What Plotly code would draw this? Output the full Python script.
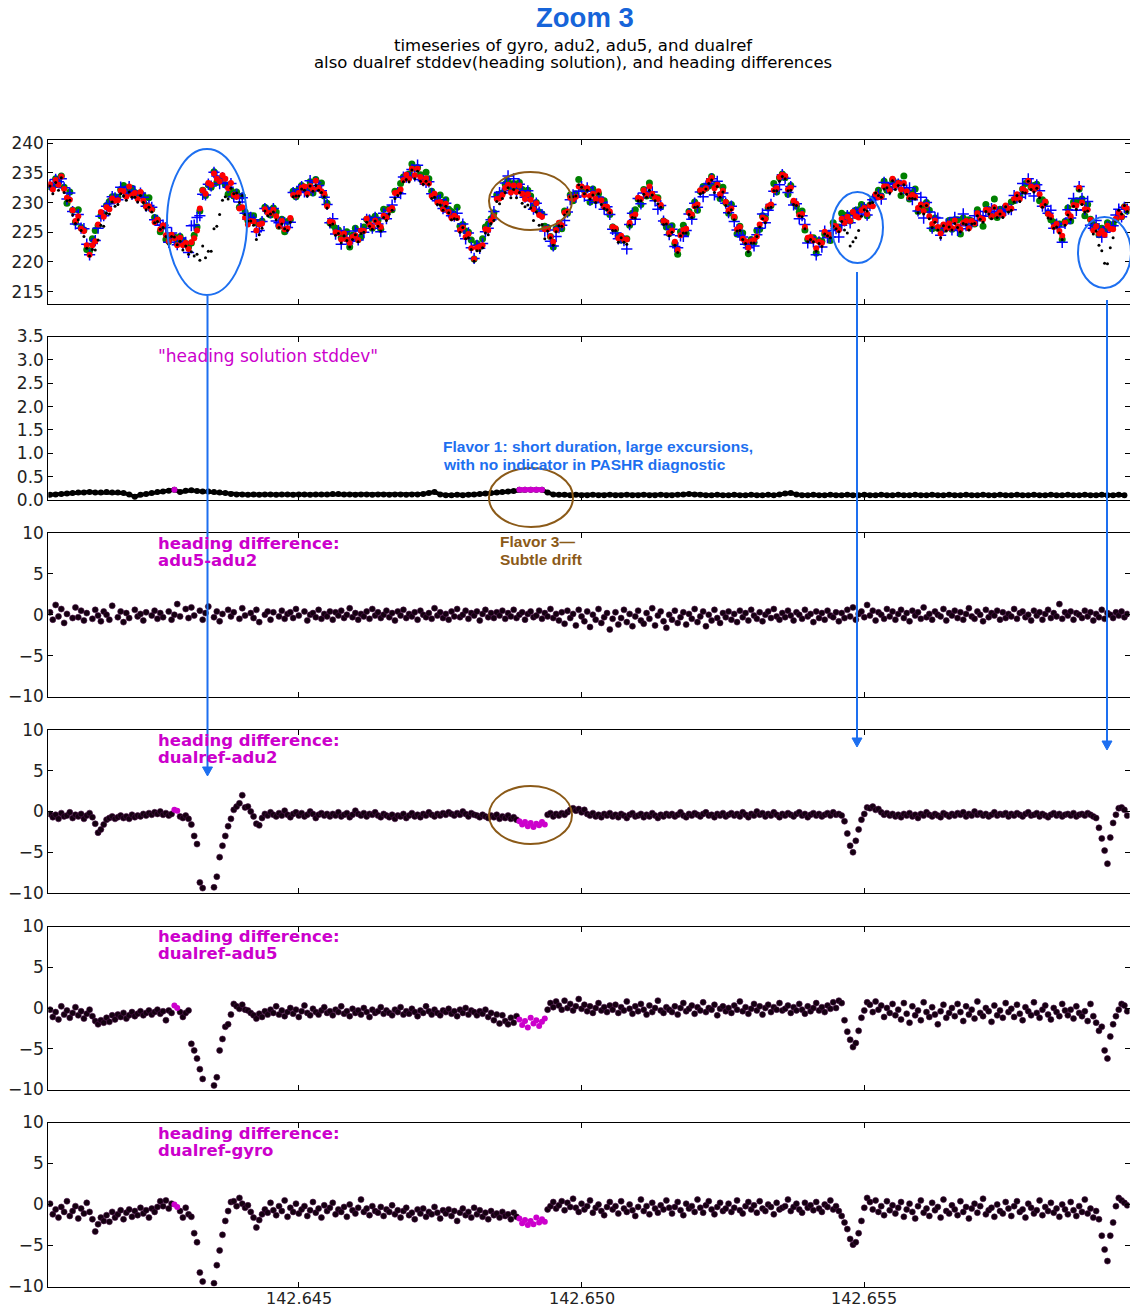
import numpy as np
import plotly.graph_objects as go

W, H = 1130, 1309

# ---------------------------------------------------------------- time axis
T_START = 142.6406          # fractional day of first sample
HEAD_STEP = 0.0001          # stddev sampling
DIFF_STEP = 0.00005         # heading / heading-difference sampling
X_RANGE = [142.64057, 142.65969]
X_TICKS = [142.645, 142.650, 142.655]
X_TICK_TEXT = ["142.645", "142.650", "142.655"]

# ---------------------------------------------------------------- adu2 heading (deg)
adu2_heading = [
    233.1, 232.2, 233.8, 233.0, 234.4, 232.3, 230.8, 230.5, 228.7, 226.9, 227.7, 225.6, 225.2, 222.8, 221.2, 222.8, 223.5, 226.3, 228.4, 227.6,
    229.2, 228.9, 230.7, 230.3, 230.4, 232.0, 231.9, 231.0, 232.7, 231.3, 231.6, 230.6, 231.8, 230.3, 229.3, 229.4, 228.8, 226.7, 227.1, 225.5,
    226.2, 224.5, 223.5, 224.6, 224.0, 222.8, 224.1, 222.8, 223.2, 222.2, 223.3, 224.0, 225.3, 229.0, 232.1, 231.5, 233.3, 233.0, 234.9, 234.0,
    233.6, 234.6, 234.0, 232.4, 233.3, 231.3, 231.0, 229.0, 229.2, 227.5, 226.3, 226.9, 226.8, 225.3, 226.3, 226.5, 228.9, 228.3, 228.2, 228.8,
    227.7, 226.0, 226.9, 225.5, 225.7, 227.4, 231.3, 231.2, 231.6, 232.5, 232.7, 231.5, 232.8, 232.2, 233.7, 232.5, 231.9, 231.5, 229.4, 226.8,
    226.7, 225.0, 224.9, 223.8, 224.8, 223.8, 223.2, 224.2, 224.5, 223.7, 225.3, 225.2, 227.3, 226.3, 225.9, 227.0, 226.5, 225.9, 227.8, 227.5,
    228.8, 229.1, 231.6, 231.7, 232.2, 233.8, 234.7, 234.0, 235.7, 234.6, 235.7, 234.3, 233.4, 234.1, 233.2, 231.1, 231.5, 230.0, 230.1, 228.9,
    229.8, 228.4, 227.4, 227.8, 227.4, 225.4, 225.8, 224.2, 224.7, 222.3, 220.5, 222.4, 222.6, 222.8, 225.5, 225.4, 227.0, 227.7, 230.6, 230.7,
    231.3, 232.5, 233.0, 231.7, 232.9, 231.8, 232.9, 231.5, 230.6, 231.4, 230.5, 228.9, 229.9, 227.9, 227.6, 225.5, 225.6, 224.3, 223.4, 225.4,
    226.6, 226.2, 228.3, 228.5, 230.8, 230.6, 231.0, 232.7, 232.7, 231.3, 232.4, 231.1, 231.5, 230.6, 231.9, 230.4, 229.3, 229.3, 228.5, 225.9,
    225.7, 224.0, 224.4, 223.8, 223.8, 226.6, 227.7, 228.0, 230.8, 230.6, 232.1, 231.3, 232.7, 231.5, 230.8, 230.6, 229.6, 226.9, 226.7, 224.9,
    225.3, 223.4, 222.0, 224.5, 225.4, 225.6, 228.3, 228.0, 229.4, 229.7, 232.1, 232.0, 232.4, 233.7, 234.2, 232.4, 233.0, 231.4, 232.0, 230.1,
    228.7, 229.0, 227.6, 225.5, 225.9, 223.9, 223.5, 222.4, 223.5, 223.7, 224.3, 226.3, 227.5, 227.2, 229.4, 229.7, 232.1, 232.4, 234.3, 234.7,
    234.5, 232.2, 232.5, 230.3, 229.8, 227.9, 228.1, 225.9, 224.1, 224.2, 223.6, 222.3, 223.4, 223.2, 225.1, 224.6, 224.6, 226.1, 226.0, 225.4,
    227.3, 226.6, 227.6, 226.9, 228.4, 227.7, 227.5, 228.7, 229.1, 228.1, 229.5, 229.4, 231.4, 230.9, 231.0, 232.7, 232.7, 232.1, 234.0, 232.8,
    233.3, 232.2, 233.3, 231.9, 230.9, 231.3, 231.0, 229.1, 229.7, 228.6, 229.6, 227.7, 226.4, 227.0, 225.9, 224.8, 226.3, 225.6, 226.5, 225.7,
    227.0, 226.0, 225.5, 226.6, 226.9, 225.7, 226.9, 226.5, 228.2, 227.4, 227.2, 228.8, 228.7, 227.7, 229.2, 228.0, 228.4, 227.9, 229.5, 229.0,
    229.0, 230.6, 231.4, 230.6, 232.3, 231.9, 233.7, 232.7, 232.2, 232.6, 231.4, 229.5, 230.2, 228.1, 227.7, 225.9, 226.4, 225.2, 224.4, 226.6,
    228.2, 227.7, 229.6, 229.5, 232.5, 230.0, 228.9, 228.8, 227.1, 225.3, 226.0, 224.8, 225.2, 224.6, 226.1, 225.6, 225.5, 227.3, 228.3, 227.6,
    229.3, 229.0,
]

# ---------------------------------------------------------------- dualref heading solution stddev
pashr_stddev = [
    0.11, 0.12, 0.13, 0.14, 0.15, 0.16, 0.16, 0.17, 0.16, 0.16,
    0.17, 0.16, 0.16, 0.15, 0.12, 0.07, 0.11, 0.13, 0.15, 0.17,
    0.18, 0.20, 0.22, 0.17, 0.20, 0.21, 0.19, 0.18, 0.18, 0.17,
    0.16, 0.15, 0.13, 0.12, 0.12, 0.11, 0.12, 0.11, 0.12, 0.12,
    0.11, 0.12, 0.12, 0.11, 0.12, 0.12, 0.11, 0.12, 0.12, 0.12,
    0.13, 0.13, 0.12, 0.12, 0.11, 0.12, 0.12, 0.11, 0.12, 0.12,
    0.11, 0.12, 0.12, 0.11, 0.12, 0.12, 0.13, 0.15, 0.17, 0.12,
    0.10, 0.10, 0.11, 0.10, 0.11, 0.12, 0.13, 0.14, 0.15, 0.16,
    0.17, 0.18, 0.19, 0.22, 0.22, 0.22, 0.22, 0.22, 0.16, 0.12,
    0.11, 0.11, 0.10, 0.11, 0.10, 0.10, 0.11, 0.10, 0.10, 0.11,
    0.10, 0.10, 0.11, 0.10, 0.10, 0.11, 0.10, 0.10, 0.11, 0.10,
    0.10, 0.11, 0.12, 0.13, 0.12, 0.11, 0.10, 0.10, 0.11, 0.10,
    0.10, 0.11, 0.10, 0.10, 0.11, 0.10, 0.10, 0.11, 0.10, 0.12,
    0.14, 0.15, 0.12, 0.10, 0.10, 0.11, 0.10, 0.10, 0.11, 0.10,
    0.10, 0.11, 0.10, 0.10, 0.11, 0.10, 0.10, 0.11, 0.10, 0.10,
    0.11, 0.10, 0.10, 0.11, 0.10, 0.10, 0.11, 0.10, 0.10, 0.11,
    0.10, 0.10, 0.11, 0.10, 0.10, 0.11, 0.10, 0.10, 0.11, 0.10,
    0.10, 0.11, 0.10, 0.10, 0.11, 0.10, 0.10, 0.11, 0.10, 0.10,
    0.11, 0.10, 0.10, 0.11, 0.10, 0.10, 0.11, 0.10, 0.10, 0.11,
    0.10,
]
STDDEV_FLAG_LEVEL = 0.215   # samples at/above this are highlighted

# ---------------------------------------------------------------- heading differences (deg)
dualref_minus_adu2 = [
    -0.3, -0.7, -0.4, -0.9, -0.2, -0.6, -0.5, -0.1, -0.8, -0.4, -0.6, -0.3, -0.9, -0.5, -0.2, -0.7, -1.5, -2.6, -2.2, -1.6,
    -1.0, -0.8, -0.6, -0.9, -0.7, -0.5, -0.8, -0.6, -0.9, -0.4, -0.7, -0.5, -0.6, -0.3, -0.5, -0.2, -0.4, -0.1, -0.3, 0.0,
    -0.4, -0.2, -0.5, -0.3, 0.2, 0.1, -0.6, -0.8, -0.5, -0.9, -1.6, -3.0, -4.0, -8.7, -9.4, -10.8, -11.5, -11.2, -9.3, -8.0,
    -5.6, -4.2, -3.0, -1.8, -0.9, 0.2, 0.6, 1.0, 2.0, 0.5, 0.6, 0.0, -0.6, -1.5, -1.7, -0.8, -0.3, -0.5, -0.1, -0.4,
    -0.6, -0.2, -0.5, 0.1, -0.4, -0.7, -0.3, -0.1, -0.5, -0.2, -0.6, -0.4, 0.0, -0.3, -0.8, -0.4, -0.2, -0.5, -0.3, -0.6,
    -0.3, -0.5, -0.1, -0.6, -0.4, -0.2, -0.7, -0.4, 0.1, -0.3, -0.5, -0.2, -0.6, -0.3, -0.4, -0.1, -0.5, -0.7, -0.3, -0.5,
    -0.7, -0.4, -0.9, -0.5, -0.6, -0.3, -0.8, -0.5, -0.2, -0.6, -0.4, -0.7, -0.3, -0.5, -0.1, -0.4, -0.6, -0.3, -0.5, -0.2,
    -0.4, -0.1, -0.3, -0.5, -0.2, -0.4, 0.0, -0.3, -0.6, -0.2, -0.4, -0.5, -0.7, -0.4, -0.6, -0.8, -0.5, -0.7, -0.4, -0.9,
    -0.6, -0.8, -0.5, -0.9, -0.7, -1.0, -1.2, -1.6, -1.3, -1.8, -1.4, -1.9, -1.5, -1.7, -1.3, -1.6, -0.4, -0.2, -0.6, -0.3,
    -0.5, -0.2, -0.4, -0.1, 0.2, 0.4, 0.1, 0.3, -0.1, 0.2, -0.3, -0.5, -0.2, -0.6, -0.4, -0.7, -0.3, -0.5, -0.2, -0.6,
    -0.4, -0.7, -0.3, -0.5, -0.8, -0.4, -0.2, -0.6, -0.5, -0.3, -0.7, -0.4, -0.6, -0.2, -0.5, -0.8, -0.4, -0.6, -0.3, -0.5,
    -0.3, -0.6, -0.4, -0.1, -0.5, -0.7, -0.3, -0.5, -0.2, -0.4, -0.6, -0.3, -0.1, -0.5, -0.4, -0.7, -0.3, -0.5, -0.2, -0.6,
    -0.4, -0.2, -0.5, -0.3, -0.6, -0.1, -0.4, -0.7, -0.3, -0.5, 0.0, -0.4, -0.2, -0.6, -0.3, -0.5, -0.1, -0.4, -0.7, -0.3,
    -0.5, -0.2, -0.4, -0.6, -0.3, -0.1, -0.5, -0.3, -0.7, -0.4, -0.2, -0.5, -0.3, -0.6, -0.4, -0.2, -0.5, -0.1, -0.4, -0.3,
    -0.5, -1.2, -2.7, -4.2, -5.0, -3.6, -2.2, -1.0, -0.3, 0.5, 0.4, 0.6, 0.2, 0.3, -0.1, -0.4, -0.2, -0.5, -0.3, -0.6,
    -0.4, -0.7, -0.3, -0.5, -0.2, -0.6, -0.4, -0.8, -0.3, -0.5, -0.1, -0.4, -0.6, -0.3, -0.5, -0.7, -0.2, -0.4, -0.6, -0.3,
    -0.5, -0.2, -0.4, -0.1, -0.6, -0.3, -0.5, 0.0, -0.4, -0.2, -0.5, -0.3, -0.6, -0.4, -0.1, -0.5, -0.3, -0.4, -0.2, -0.6,
    -0.3, -0.5, -0.2, -0.4, -0.6, -0.3, -0.1, -0.5, -0.4, -0.2, -0.6, -0.3, -0.5, -0.7, -0.4, -0.2, -0.5, -0.3, -0.6, -0.4,
    -0.3, -0.5, -0.2, -0.6, -0.4, -0.3, -0.5, -0.2, -0.4, -0.6, -0.8, -2.0, -3.3, -4.8, -6.4, -3.2, -1.4, -0.4, 0.4, 0.5,
    0.2, -0.5,
]

dualref_minus_adu5 = [
    -0.2, -1.1, -0.5, -1.4, 0.2, -0.8, -0.3, -1.2, -0.6, 0.1, -0.9, -0.4, -1.3, -0.7, -0.2, -1.0, -1.6, -2.0, -1.5, -1.8,
    -1.2, -1.7, -0.9, -1.4, -0.8, -1.1, -0.6, -1.3, -0.9, -0.5, -1.0, -0.7, -0.4, -0.9, -0.6, -0.3, -0.8, -0.5, -0.2, -0.7,
    -0.4, -1.5, -0.3, -0.6, 0.3, 0.0, -0.5, -1.1, -0.6, -0.3, -4.4, -5.2, -6.2, -7.5, -8.7, -10.6, -11.3, -11.0, -9.5, -8.5,
    -5.2, -3.8, -2.3, -2.0, -0.8, 0.5, 0.2, -0.1, 0.4, -0.2, -0.3, -0.6, -0.9, -1.3, -0.7, -1.1, -0.4, -0.8, -0.2, -0.6,
    0.2, -0.8, -0.3, -1.0, -0.5, 0.0, -0.7, -0.2, -1.1, -0.4, 0.3, -0.6, -0.9, -0.1, -0.5, -0.8, -0.3, 0.1, -0.6, -0.4,
    -0.9, -0.2, -0.5, 0.2, -0.7, -0.4, -1.0, -0.1, -0.6, -0.3, -0.8, 0.0, -0.5, -1.1, -0.2, -0.6, -0.4, 0.1, -0.7, -0.3,
    -0.6, -0.9, -0.2, -0.5, 0.1, -0.8, -0.4, -0.7, -0.1, -0.5, -1.0, -0.3, -0.6, 0.2, -0.4, -0.8, -0.2, -0.6, -0.9, -0.3,
    -0.5, -0.1, -0.7, -0.4, -1.0, -0.2, -0.6, 0.0, -0.8, -0.3, -0.5, -0.9, -0.4, -0.7, -0.2, -1.1, -0.6, -1.5, -0.8, -1.9,
    -0.9, -1.6, -2.0, -1.2, -1.8, -1.0, -1.4, -2.1, -1.6, -2.4, -1.2, -1.9, -1.5, -2.2, -1.7, -1.3, -0.2, 0.6, 0.1, 0.8,
    0.3, -0.2, 0.9, 0.0, 0.5, -0.3, 0.2, 1.1, -0.1, 0.4, -0.4, 0.2, -0.6, 0.0, 0.6, -0.3, 0.1, -0.5, 0.3, -0.2,
    0.4, -0.6, 0.1, -0.3, 0.8, -0.1, -0.7, 0.2, -0.4, 0.5, -0.2, -0.8, 0.3, -0.5, 0.0, 0.9, -0.3, -0.6, 0.1, -0.2,
    -0.5, 0.2, -0.8, 0.0, 0.6, -0.4, -0.1, 0.3, -0.7, 0.1, -0.3, 0.7, -0.5, 0.0, -0.2, 0.4, -0.9, -0.1, 0.2, -0.4,
    0.0, -0.6, 0.3, -0.2, 0.8, -0.4, 0.1, -0.7, -0.1, 0.5, -0.3, 0.2, -0.8, 0.0, 0.4, -0.5, 0.1, -0.2, 0.6, -0.3,
    -0.1, 0.3, -0.6, 0.1, -0.3, 0.5, -0.2, -0.7, 0.2, -0.4, 0.0, 0.6, -0.3, 0.1, -0.5, 0.3, -0.1, 0.7, 0.0, 0.9,
    0.6, -1.5, -2.9, -3.9, -4.8, -4.3, -2.8, -1.2, -0.3, 0.7, 0.4, -0.5, 0.8, -0.2, 0.3, -1.1, 0.0, -0.6, 0.5, -0.9,
    -0.2, -1.4, 0.6, -0.7, -1.8, 0.2, -0.9, -0.3, -1.5, 0.7, -0.5, -1.1, 0.1, -0.8, -2.0, -0.4, 0.4, -1.2, -0.6, 0.0,
    -1.0, 0.5, -0.5, -1.6, 0.2, -0.8, -0.2, -1.3, 0.8, -0.6, -1.0, 0.0, -0.4, -1.7, 0.3, -0.9, -0.3, -1.2, 0.6, -0.5,
    -0.1, -1.1, 0.4, -0.7, -1.5, 0.1, -0.4, -0.9, 0.7, -0.6, -1.2, -0.2, 0.3, -0.8, -1.4, 0.0, -0.5, -1.0, 0.5, -0.3,
    -0.9, -0.2, -1.3, 0.2, -0.6, -1.0, -0.4, -1.6, 0.5, -1.0, -1.8, -2.8, -2.3, -5.2, -6.2, -3.5, -2.0, -1.0, -0.2, 0.5,
    0.3, -0.4,
]

dualref_minus_gyro = [
    0.1, -1.2, -0.6, -1.6, -0.3, -0.9, 0.4, -1.4, -0.8, -0.2, -1.7, -0.5, -1.1, 0.2, -0.9, -1.8, -3.3, -2.4, -1.6, -2.0,
    -1.3, -2.1, -0.9, -1.6, -1.2, -0.7, -1.8, -1.0, -0.6, -1.5, -0.8, -1.3, -0.4, -1.1, -0.7, -1.6, -0.5, -0.9, -0.3, 0.4,
    -0.2, 0.5, -0.5, 0.1, 0.0, -0.3, -0.8, -1.6, -0.4, -1.2, -1.5, -3.5, -4.6, -8.3, -9.4, -10.5, -11.2, -10.8, -9.6, -7.4,
    -5.6, -3.7, -2.0, -0.8, 0.3, 0.4, -0.2, 0.8, 0.1, -0.4, -0.1, -0.9, -1.6, -2.8, -1.9, -1.2, -0.6, -1.0, 0.2, -0.7,
    -1.3, -0.2, -0.8, 0.5, -1.5, -0.4, -0.9, 0.1, -1.1, -0.6, -0.2, -1.4, -0.7, 0.3, -1.0, -0.5, -1.6, -0.1, -0.8, -0.4,
    0.2, -1.2, -0.6, -0.9, -0.3, -1.5, 0.0, -0.7, -1.1, -0.4, 0.6, -0.9, -0.5, -1.3, -0.2, -0.8, -1.0, -0.3, -1.4, -0.6,
    -0.9, -0.1, -1.2, -0.7, -1.6, -0.8, -0.4, -1.3, -1.0, -1.8, -0.6, -1.1, -0.5, -1.5, -0.9, -1.2, -0.3, -1.0, -1.7, -0.7,
    -1.1, -0.6, -1.4, -0.8, -2.0, -1.0, -0.5, -1.3, -0.9, -1.6, -0.4, -1.2, -0.7, -1.5, -1.0, -1.8, -0.8, -1.3, -1.1, -1.6,
    -0.9, -1.4, -1.2, -1.8, -1.0, -1.5, -1.7, -2.3, -1.9, -2.5, -2.0, -2.4, -1.6, -2.2, -1.8, -2.1, -0.6, -0.2, 0.3, -0.5,
    -0.1, 0.4, -0.7, 0.2, -0.3, 0.7, -0.4, -0.9, 0.1, -0.6, -0.2, 0.5, -1.0, -0.4, 0.0, -0.8, -1.3, -0.3, 0.3, -0.6,
    -0.2, -1.1, 0.4, -0.5, -0.9, 0.0, -0.7, -1.4, -0.3, 0.6, -0.8, -0.2, -1.2, 0.2, -0.5, -1.0, -0.1, -0.6, 0.5, -0.4,
    -1.1, -0.3, 0.3, -0.7, -1.3, 0.1, -0.5, -0.2, -0.9, 0.6, -0.4, -1.0, -0.1, 0.4, -0.6, -1.2, -0.3, 0.2, -0.8, -0.5,
    0.1, -0.9, -0.4, 0.5, -0.7, -1.1, -0.2, 0.3, -0.6, -0.1, -1.0, 0.4, -0.5, -0.8, 0.0, -0.3, -1.2, 0.2, -0.6, -0.4,
    -0.2, 0.6, -0.8, -0.3, 0.1, -0.6, -1.0, 0.2, -0.4, -0.1, -0.7, 0.3, -0.5, -0.9, 0.0, -0.3, 0.5, -0.6, -0.2, -0.8,
    -1.4, -2.2, -3.0, -4.2, -4.9, -4.6, -3.5, -2.0, -0.4, 0.8, 0.3, -0.6, 0.5, -0.9, -0.2, -1.3, 0.4, -0.7, -0.1, -1.1,
    -0.4, 0.3, -1.5, -0.6, 0.1, -0.9, -1.7, -0.2, 0.5, -1.0, -0.5, -1.4, 0.2, -0.7, -0.3, -1.6, 0.6, -0.8, -1.1, -0.1,
    -0.6, -1.3, 0.4, -0.9, -0.3, -1.7, -0.5, 0.1, -1.0, -0.2, 0.7, -1.2, -0.7, -0.4, -1.5, 0.0, -0.8, -1.1, 0.3, -0.5,
    -1.4, -0.2, 0.4, -0.9, -0.6, -1.6, 0.1, -0.4, -1.1, -0.7, 0.5, -1.3, -0.3, -0.8, 0.2, -1.0, -0.5, -1.5, 0.0, -0.6,
    -1.2, 0.3, -0.7, -1.4, -0.2, -0.9, 0.6, -1.1, -0.5, -1.6, -0.8, -1.8, -3.8, -5.5, -6.9, -3.8, -2.2, -0.2, 0.8, 0.5,
    0.2, -0.1,
]

adu5_minus_adu2 = [
    0.3, -0.6, 1.2, -0.2, 0.7, -1.0, 0.1, None, -0.4, 0.9, -0.3, 0.5, -0.7, 0.2, None, -0.5, 0.6, -0.1, -0.8, 0.4,
    0.0, -0.6, 1.1, None, -0.3, 0.4, -0.9, 0.2, -0.4, None, 0.6, -0.2, 0.1, -0.7, 0.3, None, -0.1, 0.5, -0.5, 0.2,
    -0.3, None, 0.4, -0.6, 0.0, 1.3, -0.2, None, 0.7, -0.4, 0.9, -0.1, None, 0.5, -0.6, 0.2, 1.0, None, -0.3, 0.4,
    -0.8, 0.1, None, 0.6, -0.2, 0.3, None, -0.5, 0.8, -0.1, None, 0.2, -0.4, 0.6, -0.9, None, 0.0, 0.4, -0.6, 0.3,
    None, -0.2, 0.5, -0.5, 0.1, 0.3, -0.4, 0.7, -0.1, None, 0.4, -0.7, 0.0, 0.2, -0.3, 0.6, -0.5, 0.1, -0.2, 0.4,
    -0.6, 0.3, -0.1, 0.5, -0.4, 0.0, 0.8, -0.3, 0.2, -0.6, 0.1, -0.2, 0.4, -0.5, 0.7, -0.1, 0.3, -0.4, 0.0, 0.5,
    -0.3, 0.2, -0.7, 0.4, -0.1, 0.6, -0.4, 0.1, -0.2, 0.3, -0.6, 0.5, 0.0, -0.3, 0.2, -0.5, 0.8, -0.1, 0.3, -0.4,
    0.1, -0.6, 0.4, -0.2, 0.7, -0.3, 0.0, 0.5, -0.5, 0.2, -0.1, 0.4, -0.7, 0.1, 0.6, -0.3, 0.2, -0.4, 0.3, -0.1,
    0.5, -0.5, 0.2, -0.2, 0.6, -0.4, 0.0, 0.3, -0.6, 0.1, 0.4, -0.3, -0.1, 0.5, -0.5, 0.2, -0.2, 0.7, -0.4, 0.1,
    -0.7, 0.3, -1.1, 0.5, -0.4, 0.1, -1.3, 0.6, -0.2, -0.8, 0.4, -1.5, 0.0, -0.6, 0.7, -1.0, -0.3, 0.2, -1.8, -0.5,
    0.3, -1.2, -0.4, 0.6, -0.9, 0.1, -1.4, -0.2, 0.5, -0.7, -1.1, 0.2, -0.5, 0.8, -1.3, -0.1, 0.4, -0.8, -1.6, 0.0,
    -0.6, 0.5, -1.0, -0.3, 0.3, -1.2, 0.1, -0.5, 0.7, -0.9, -0.2, 0.4, -1.4, 0.0, -0.7, 0.6, -0.4, -1.0, 0.2, -0.3,
    0.4, -0.6, 0.1, -0.9, 0.5, -0.3, 0.2, -0.7, 0.6, -0.1, -0.5, 0.3, -0.8, 0.0, 0.4, -0.4, 0.7, -0.2, -0.6, 0.2,
    -0.3, 0.5, -0.1, -0.7, 0.3, 0.0, -0.5, 0.6, -0.2, 0.1, -0.9, 0.4, -0.4, 0.2, -0.6, 0.5, -0.1, -0.3, 0.3, -0.8,
    0.2, -0.4, 0.6, -0.2, 0.9, -0.6, 0.1, 0.4, -0.3, 1.2, -0.1, 0.5, -0.7, 0.3, 0.0, -0.5, 0.7, -0.2, 0.4, -0.6,
    0.1, 0.6, -0.4, 0.2, -0.8, 0.5, -0.1, 0.3, -0.5, 0.9, -0.3, 0.1, -0.6, 0.4, 0.0, -0.2, 0.7, -0.7, 0.2, -0.1,
    0.5, -0.4, 0.3, -0.6, 0.1, 0.8, -0.2, -0.5, 0.4, 0.0, -0.8, 0.6, -0.3, 0.2, -0.1, 0.5, -0.6, 0.3, -0.4, 0.1,
    -0.2, 0.7, -0.5, 0.2, 0.4, -0.3, 0.0, -0.7, 0.5, -0.1, 0.3, -0.6, 0.1, 0.6, -0.4, 0.2, -0.2, 1.3, -0.5, 0.3,
    -0.1, 0.4, -0.6, 0.2, 0.0, -0.4, 0.5, -0.2, 0.3, -0.7, 0.1, -0.3, 0.6, -0.5, 0.2, 0.0, -0.4, 0.3, -0.1, 0.4,
    -0.3, 0.1,
]

# ---------------------------------------------------------------- derived series
t_head = T_START + HEAD_STEP * np.arange(len(pashr_stddev))
t_diff = T_START + DIFF_STEP * np.arange(len(dualref_minus_adu2))

d_adu2 = np.array(dualref_minus_adu2, dtype=float)
d_adu5 = np.array(dualref_minus_adu5, dtype=float)
d_gyro = np.array(dualref_minus_gyro, dtype=float)
d_a5a2 = np.array(adu5_minus_adu2, dtype=float)

adu2 = np.array(adu2_heading, dtype=float)
dualref = adu2 + d_adu2
adu5 = dualref - d_adu5
gyro = dualref - d_gyro

stddev = np.array(pashr_stddev, dtype=float)
flag_head = stddev >= STDDEV_FLAG_LEVEL
flag_diff = np.repeat(flag_head, 2)[: len(t_diff)]

# ---------------------------------------------------------------- styling
MAGENTA = "#cc00cc"
BLUE = "#1d6ff0"
BROWN = "#8b5a18"
TICK_COLOR = "#222222"
Y_TICK_FONT = dict(family="DejaVu Sans", size=17, color=TICK_COLOR)

# panel extents in page pixels (top, bottom)
PANELS_PX = [(140, 303.5), (336.5, 500), (533, 696.5),
             (730, 893), (926.5, 1089.5), (1122.5, 1286.5)]
X_DOMAIN = [48.3 / W, 1129.5 / W]
X_LABEL_PY = 1298           # centre line of the time labels under the last panel

Y_RANGES = [[213.0, 240.55], [0, 3.5], [-10, 10], [-10, 10], [-10, 10], [-10, 10]]
Y_TICKS = [[215, 220, 225, 230, 235, 240],
           [0, 0.5, 1.0, 1.5, 2.0, 2.5, 3.0, 3.5],
           [-10, -5, 0, 5, 10], [-10, -5, 0, 5, 10],
           [-10, -5, 0, 5, 10], [-10, -5, 0, 5, 10]]


def ax_names(k):
    return ("x" if k == 1 else f"x{k}", "y" if k == 1 else f"y{k}")


def pxx(px):
    return px / W


def pxy(py):
    return 1 - py / H


fig = go.Figure()

# panel 1: headings
xa, ya = ax_names(1)
fig.add_trace(go.Scatter(x=t_diff, y=gyro, mode="markers", name="gyro",
                         marker=dict(color="#008000", size=7), xaxis=xa, yaxis=ya))
fig.add_trace(go.Scatter(x=t_diff, y=adu5, mode="markers", name="adu5",
                         marker=dict(color="#0000ff", size=8, symbol="cross-thin",
                                     line=dict(color="#0000ff", width=1.5)),
                         xaxis=xa, yaxis=ya))
fig.add_trace(go.Scatter(x=t_diff, y=adu2, mode="markers", name="adu2",
                         marker=dict(color="#ff0000", size=6), xaxis=xa, yaxis=ya))
fig.add_trace(go.Scatter(x=t_diff, y=dualref, mode="markers", name="dualref",
                         marker=dict(color="#000000", size=3), xaxis=xa, yaxis=ya))

# panel 2: heading solution stddev
xa, ya = ax_names(2)
fig.add_trace(go.Scatter(x=t_head, y=stddev, mode="lines+markers", name="stddev",
                         line=dict(color="black", width=4),
                         marker=dict(color="black", size=6), xaxis=xa, yaxis=ya))
fig.add_trace(go.Scatter(x=t_head, y=np.where(flag_head, stddev, np.nan),
                         mode="lines+markers", name="stddev flagged",
                         line=dict(color=MAGENTA, width=5),
                         marker=dict(color=MAGENTA, size=6), xaxis=xa, yaxis=ya))

# panels 3-6: heading differences
DOT = dict(color="#140010", size=6, line=dict(color="#4a1046", width=0.6))
FLAG_DOT = dict(color=MAGENTA, size=6)
diff_series = [(3, d_a5a2, False), (4, d_adu2, True), (5, d_adu5, True), (6, d_gyro, True)]
for k, d, highlight in diff_series:
    xa, ya = ax_names(k)
    if highlight:
        fig.add_trace(go.Scatter(x=t_diff, y=np.where(flag_diff, np.nan, d), mode="markers",
                                 marker=DOT, xaxis=xa, yaxis=ya))
        fig.add_trace(go.Scatter(x=t_diff, y=np.where(flag_diff, d, np.nan), mode="markers",
                                 marker=FLAG_DOT, xaxis=xa, yaxis=ya))
    else:
        fig.add_trace(go.Scatter(x=t_diff, y=d, mode="markers", marker=DOT,
                                 xaxis=xa, yaxis=ya))

# axes
layout_axes = {}
for k in range(1, 7):
    top, bot = PANELS_PX[k - 1]
    xkey = "xaxis" if k == 1 else f"xaxis{k}"
    ykey = "yaxis" if k == 1 else f"yaxis{k}"
    xa, ya = ax_names(k)
    layout_axes[xkey] = dict(
        domain=X_DOMAIN, range=X_RANGE, anchor=ya, automargin=False,
        tickvals=X_TICKS, showticklabels=False,
        ticks="inside", ticklen=5, tickwidth=1, tickcolor="black",
        showline=True, linecolor="black", linewidth=1, mirror="allticks",
        showgrid=False, zeroline=False,
    )
    layout_axes[ykey] = dict(
        domain=[pxy(bot), pxy(top)], range=Y_RANGES[k - 1], anchor=xa, automargin=False,
        tickvals=Y_TICKS[k - 1], tickformat=".1f" if k == 2 else None,
        ticks="inside", ticklen=5, tickwidth=1, tickcolor="black",
        showline=True, linecolor="black", linewidth=1, mirror="allticks",
        showgrid=False, zeroline=False, tickfont=Y_TICK_FONT,
    )


def text(px, py, s, color, size, family, bold=False, xanchor="left"):
    return dict(x=pxx(px), y=pxy(py), xref="paper", yref="paper",
                text=f"<b>{s}</b>" if bold else s, showarrow=False,
                xanchor=xanchor, yanchor="middle", borderpad=0,
                font=dict(color=color, size=size, family=family))


annotations = [
    text(585, 17, "Zoom 3", "#1664d9", 27.5, "Liberation Sans", bold=True, xanchor="center"),
    text(573, 45.5, "timeseries of gyro, adu2, adu5, and dualref", "black", 16.5,
         "DejaVu Sans", xanchor="center"),
    text(573, 62.5, "also dualref stddev(heading solution), and heading differences",
         "black", 16.5, "DejaVu Sans", xanchor="center"),
    text(157, 356, "\"heading solution stddev\"", MAGENTA, 17, "DejaVu Sans"),
    text(442, 447, "Flavor 1: short duration, large excursions,", BLUE, 15.5,
         "Liberation Sans", bold=True),
    text(442, 465, "with no indicator in PASHR diagnostic", BLUE, 15.5,
         "Liberation Sans", bold=True),
    text(499, 541, "Flavor 3\u2014", BROWN, 15.5, "Liberation Sans", bold=True),
    text(499, 559, "Subtle drift", BROWN, 15.5, "Liberation Sans", bold=True),
]
for py, name in [(544, "adu5-adu2"), (741, "dualref-adu2"),
                 (937, "dualref-adu5"), (1134, "dualref-gyro")]:
    annotations.append(text(157, py - 0.5, "heading difference:", MAGENTA, 16.5,
                            "DejaVu Sans", bold=True))
    annotations.append(text(157, py + 16.5, name, MAGENTA, 16.5, "DejaVu Sans", bold=True))

# time labels under the bottom panel, placed on that panel's x scale
for tv, tt in zip(X_TICKS, X_TICK_TEXT):
    annotations.append(dict(x=tv, y=pxy(X_LABEL_PY), xref="x6", yref="paper",
                            text=tt, showarrow=False, xanchor="center", yanchor="middle",
                            borderpad=0,
                            font=dict(family="DejaVu Sans", size=16, color=TICK_COLOR)))


def ellipse(x0, y0, x1, y1, color):
    return dict(type="circle", xref="paper", yref="paper",
                x0=pxx(x0), x1=pxx(x1), y0=pxy(y1), y1=pxy(y0),
                line=dict(color=color, width=2), fillcolor="rgba(0,0,0,0)")


def arrow(x, y_start, y_tip, color):
    stem = dict(type="line", xref="paper", yref="paper",
                x0=pxx(x), x1=pxx(x), y0=pxy(y_start), y1=pxy(y_tip - 6),
                line=dict(color=color, width=2))
    head = dict(type="path", xref="paper", yref="paper",
                path=(f"M {pxx(x - 5)},{pxy(y_tip - 9)} L {pxx(x + 5)},{pxy(y_tip - 9)} "
                      f"L {pxx(x)},{pxy(y_tip)} Z"),
                fillcolor=color, line=dict(color=color, width=1))
    return [stem, head]


shapes = [
    ellipse(167, 149, 247, 295, BLUE),
    ellipse(832, 192, 883, 263, BLUE),
    ellipse(1078, 217, 1131, 288, BLUE),
    ellipse(489, 172, 572, 230, BROWN),
    ellipse(489, 468, 573, 527, BROWN),
    ellipse(489, 786, 572, 844, BROWN),
]
shapes += arrow(207.5, 296, 776, BLUE)
shapes += arrow(857, 272, 747, BLUE)
shapes += arrow(1107, 300, 750, BLUE)

fig.update_layout(
    template="none",
    width=W, height=H, autosize=False,
    margin=dict(l=0, r=0, t=0, b=0, pad=0),
    paper_bgcolor="white", plot_bgcolor="white",
    showlegend=False,
    annotations=annotations,
    shapes=shapes,
    **layout_axes,
)

fig.write_html("out.html", config={"displayModeBar": False})
